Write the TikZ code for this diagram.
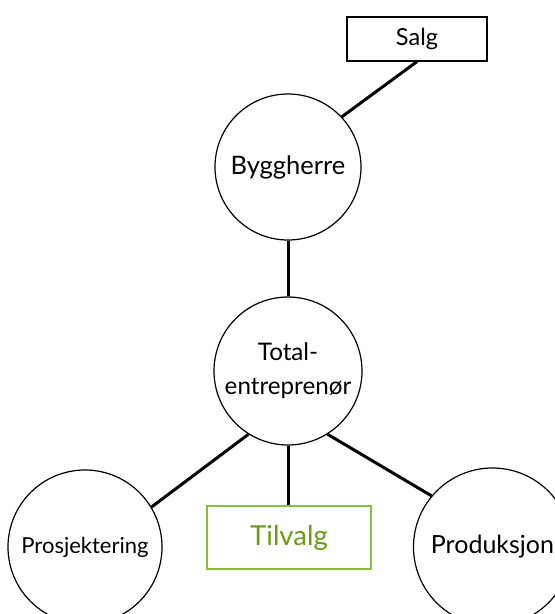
\documentclass[tikz,border=0pt]{standalone}
\usepackage{fontspec}
\setmainfont{Lato}
\definecolor{optgreen}{RGB}{108,156,20}
\definecolor{optframe}{RGB}{140,190,60}
\begin{document}
\begin{tikzpicture}[x=1pt,y=1pt,
  role/.style={circle,draw=black,line width=1.2pt,fill=white,inner sep=0pt,align=center},
  unit/.style={rectangle,draw=black,line width=1.2pt,fill=white,inner sep=0pt},
  link/.style={line width=3pt}]
\useasboundingbox (0,0) rectangle (555,614);
\clip (0,0) rectangle (555,614);
% parties and roles
\node[unit,minimum width=140,minimum height=44,font=\fontsize{23.5}{28}\selectfont] (salg) at (417,575) {Salg};
\node[role,minimum size=146,font=\fontsize{25.5}{30}\selectfont] (bygg) at (288,447) {Byggherre};
\node[role,minimum size=148,font=\fontsize{24.2}{34}\selectfont] (total) at (288,243) {Total-\\entreprenør};
\node[role,minimum size=154,font=\fontsize{22}{26}\selectfont] (prosj) at (85,67) {Prosjektering};
\node[role,minimum size=158,font=\fontsize{25}{30}\selectfont] (prod) at (492.5,67) {Produksjon};
\node[unit,draw=optframe,text=optgreen,minimum width=164,minimum height=63,font=\fontsize{27.5}{32}\selectfont] (tilvalg) at (289,76.5) {Tilvalg};
% connections
\draw[link] (salg.south) -- (bygg.43);
\draw[link] (bygg.south) -- (total.north);
\draw[link] (total.238) -- (prosj.31);
\draw[link] (total.south) -- (total.south |- tilvalg.north);
\draw[link] (total.302) -- (prod.140);
\end{tikzpicture}
\end{document}
